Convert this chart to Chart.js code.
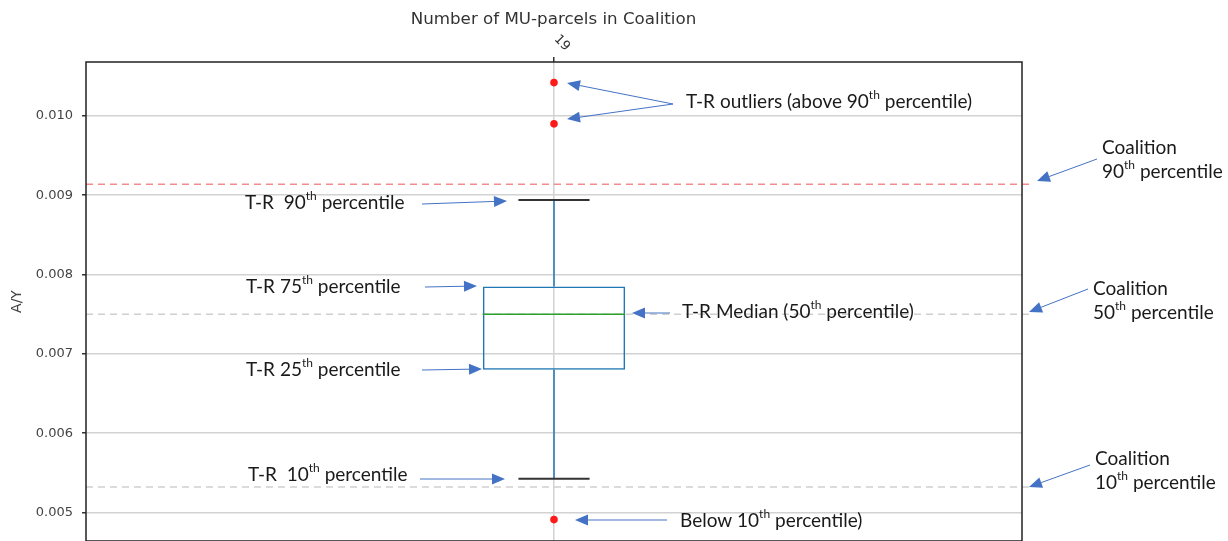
<!DOCTYPE html>
<html><head><meta charset="utf-8">
<script src="https://cdn.jsdelivr.net/npm/chart.js@4/dist/chart.umd.min.js"></script>
<style>html,body{margin:0;padding:0;background:#fff;overflow:hidden}#wrap{width:1228px;height:541px;overflow:hidden}</style>
</head><body><div id="wrap"><canvas id="c" width="1228" height="545"></canvas></div>
<script>
// ---- data ----
const categories = ['19'];
const boxQ1 = [0.00680];
const boxQ3 = [0.00785];
const medians = [0.00750];
const whiskerLow = [0.005425];
const whiskerHigh = [0.00894];
const outliers = [0.01042, 0.00990, 0.00491];
const coalitionLines = [0.00914, 0.00750, 0.00532];
const yMin = 0.00464, yMax = 0.01068, yStep = 0.001;
const chartTitle = 'Number of MU-parcels in Coalition';
const yTitle = 'A/Y';

// ---- annotations (decoration, pixel placed) ----
const annoFont = '19px Lato, "Open Sans", sans-serif';
const annoSupFont = '12px Lato, "Open Sans", sans-serif';
const annoTexts = [
  {x: 686, y: 102, t: 'T-R outliers (above 90{th} percentile)'},
  {x: 1102, y: 148, t: 'Coalition'},
  {x: 1102, y: 172, t: '90{th} percentile'},
  {x: 245, y: 203, t: 'T-R  90{th} percentile'},
  {x: 246, y: 287, t: 'T-R 75{th} percentile'},
  {x: 682, y: 312, t: 'T-R Median (50{th} percentile)'},
  {x: 1093, y: 289, t: 'Coalition'},
  {x: 1093, y: 313, t: '50{th} percentile'},
  {x: 246, y: 370, t: 'T-R 25{th} percentile'},
  {x: 248, y: 475, t: 'T-R  10{th} percentile'},
  {x: 1095, y: 459, t: 'Coalition'},
  {x: 1095, y: 483, t: '10{th} percentile'},
  {x: 680, y: 521, t: 'Below 10{th} percentile)'}
];
const annoArrows = [
  [673, 104, 567, 83], [673, 104, 567, 119],
  [1097, 159, 1037, 181],
  [422, 204, 507, 201],
  [425, 287, 477, 286],
  [670, 313, 632, 313],
  [1088, 289, 1029, 312],
  [422, 370, 482, 369],
  [420, 479, 505, 479],
  [1090, 465, 1029, 487],
  [667, 520, 575, 520]
];

function drawRich(ctx, x, y, str) {
  const parts = str.split(/(\{[^}]*\})/).filter(s => s.length);
  ctx.textBaseline = 'middle';
  ctx.textAlign = 'left';
  let cx = x;
  parts.forEach(p => {
    if (p[0] === '{') {
      const s = p.slice(1, -1);
      ctx.font = annoSupFont;
      ctx.fillText(s, cx, y - 7);
      cx += ctx.measureText(s).width;
    } else {
      ctx.font = annoFont;
      ctx.fillText(p, cx, y);
      cx += ctx.measureText(p).width;
    }
  });
}
function drawArrow(ctx, x1, y1, x2, y2) {
  const a = Math.atan2(y2 - y1, x2 - x1);
  const L = 13, W = 5.5;
  const bx = x2 - L * Math.cos(a), by = y2 - L * Math.sin(a);
  ctx.strokeStyle = '#4472C4'; ctx.fillStyle = '#4472C4'; ctx.lineWidth = 1;
  ctx.beginPath(); ctx.moveTo(x1, y1); ctx.lineTo(bx, by); ctx.stroke();
  ctx.beginPath();
  ctx.moveTo(x2, y2);
  ctx.lineTo(bx + W * Math.sin(a), by - W * Math.cos(a));
  ctx.lineTo(bx - W * Math.sin(a), by + W * Math.cos(a));
  ctx.closePath(); ctx.fill();
}

const boxPlugin = {
  id: 'boxExtras',
  beforeDatasetsDraw(chart) {
    const {ctx, chartArea, scales: {y}} = chart;
    ctx.save();
    coalitionLines.forEach((v, i) => {
      const py = y.getPixelForValue(v);
      ctx.strokeStyle = i === 0 ? 'rgba(240,110,110,0.8)' : '#cfcfcf';
      ctx.lineWidth = 1.5;
      ctx.setLineDash([7, 5]);
      ctx.beginPath(); ctx.moveTo(chartArea.left, py); ctx.lineTo(chartArea.right + 8, py); ctx.stroke();
    });
    ctx.restore();
  },
  afterDatasetsDraw(chart) {
    const {ctx, scales: {x, y}} = chart;
    const meta = chart.getDatasetMeta(0);
    ctx.save();
    categories.forEach((c, i) => {
      const cx = x.getPixelForValue(i);
      const bar = meta.data[i];
      const hw = bar.width / 2;
      ctx.strokeStyle = '#1f77b4'; ctx.lineWidth = 1.5;
      ctx.beginPath();
      ctx.moveTo(cx, y.getPixelForValue(boxQ3[i])); ctx.lineTo(cx, y.getPixelForValue(whiskerHigh[i]));
      ctx.moveTo(cx, y.getPixelForValue(boxQ1[i])); ctx.lineTo(cx, y.getPixelForValue(whiskerLow[i]));
      ctx.stroke();
      ctx.strokeStyle = '#333'; ctx.lineWidth = 2;
      ctx.beginPath();
      [whiskerHigh[i], whiskerLow[i]].forEach(v => {
        const py = y.getPixelForValue(v);
        ctx.moveTo(cx - hw / 2, py); ctx.lineTo(cx + hw / 2, py);
      });
      ctx.stroke();
      ctx.strokeStyle = '#2ca02c'; ctx.lineWidth = 1.5;
      const my = y.getPixelForValue(medians[i]);
      ctx.beginPath(); ctx.moveTo(cx - hw, my); ctx.lineTo(cx + hw, my); ctx.stroke();
    });
    ctx.restore();
  },
  afterDraw(chart) {
    const {ctx, chartArea, scales: {x}} = chart;
    ctx.save();
    ctx.strokeStyle = '#222'; ctx.lineWidth = 1.5;
    ctx.strokeRect(chartArea.left, chartArea.top, chartArea.right - chartArea.left, chartArea.bottom - chartArea.top);
    ctx.fillStyle = '#333';
    ctx.font = '16.7px "DejaVu Sans", sans-serif';
    ctx.textAlign = 'center'; ctx.textBaseline = 'middle';
    ctx.fillText(chartTitle, 553.5, 20);
    ctx.font = '13px "DejaVu Sans", sans-serif';
    categories.forEach((c, i) => {
      const cx = x.getPixelForValue(i);
      ctx.save();
      ctx.translate(cx + 8, chartArea.top - 19);
      ctx.rotate(Math.PI / 4);
      ctx.textAlign = 'center'; ctx.textBaseline = 'middle';
      ctx.fillText(c, 0, 0);
      ctx.restore();
    });
    ctx.fillStyle = '#1a1a1a';
    annoTexts.forEach(a => drawRich(ctx, a.x, a.y, a.t));
    annoArrows.forEach(a => drawArrow(ctx, a[0], a[1], a[2], a[3]));
    ctx.restore();
  }
};

new Chart(document.getElementById('c'), {
  type: 'bar',
  data: {
    labels: categories,
    datasets: [
      {
        label: 'box',
        data: categories.map((c, i) => [boxQ1[i], boxQ3[i]]),
        backgroundColor: 'rgba(0,0,0,0)',
        borderColor: '#1f77b4',
        borderWidth: 1.5,
        borderSkipped: false,
        barPercentage: 0.152,
        categoryPercentage: 1
      },
      {
        type: 'line',
        label: 'outliers',
        data: outliers.map(v => ({x: categories[0], y: v})),
        showLine: false,
        pointRadius: 3.8,
        pointBackgroundColor: '#ff1a1a',
        pointBorderWidth: 0,
        borderColor: '#ff1a1a'
      }
    ]
  },
  options: {
    responsive: false,
    animation: false,
    devicePixelRatio: 1,
    layout: {padding: {left: 0, top: 0, right: 206, bottom: 0}},
    plugins: {legend: {display: false}, tooltip: {enabled: false}, title: {display: false}},
    scales: {
      x: {
        type: 'category',
        position: 'top',
        offset: true,
        ticks: {display: false},
        grid: {offset: false, color: '#d2d2d2', lineWidth: 1.5, tickLength: 5, tickColor: '#333', drawTicks: true},
        border: {display: false},
        afterFit: s => { s.height = 62; s.paddingLeft = 0; s.paddingRight = 0; }
      },
      y: {
        type: 'linear',
        min: yMin, max: yMax,
        ticks: {
          stepSize: yStep, includeBounds: false,
          callback: v => v.toFixed(3),
          font: {family: '"DejaVu Sans", sans-serif', size: 13},
          color: '#444', padding: 9
        },
        grid: {color: '#d2d2d2', lineWidth: 1.5, tickLength: 4, tickColor: '#333'},
        border: {display: false},
        title: {display: true, text: yTitle, color: '#444',
          font: {family: '"DejaVu Sans", sans-serif', size: 14}, padding: {top: 9, bottom: 0}},
        afterFit: s => { s.width = 86; s.paddingTop = 0; s.paddingBottom = 0; }
      }
    }
  },
  plugins: [boxPlugin]
});
</script>
</body></html>
